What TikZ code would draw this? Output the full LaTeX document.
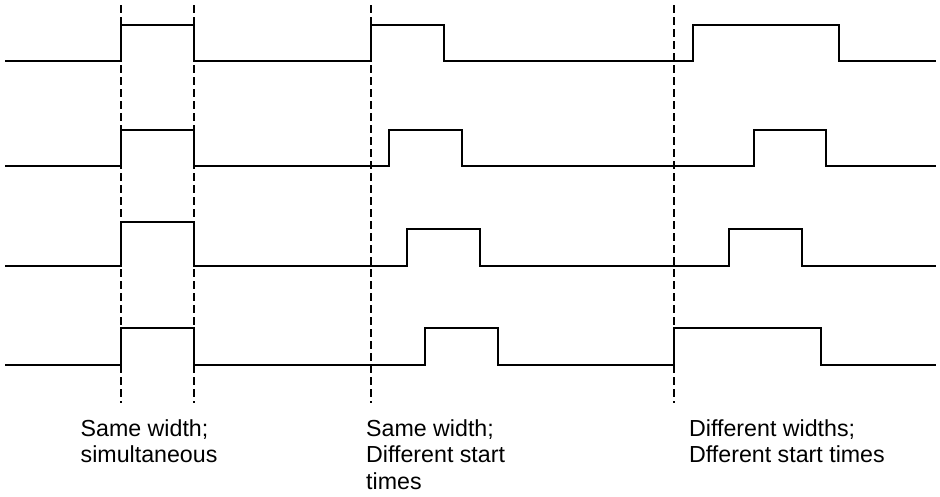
\documentclass[tikz,border=0pt]{standalone}
\usepackage{fontspec}
\setmainfont{Liberation Sans}
\begin{document}
\begin{tikzpicture}[x=1pt,y=-1pt,
  wave/.style={line width=1.7pt, line join=miter},
  guide/.style={line width=1.5pt, dash pattern=on 8pt off 4pt},
  caption/.style={anchor=base west, align=left, inner sep=0pt,
    font=\fontsize{23.2}{26.7}\selectfont}]
\useasboundingbox (0,0) rectangle (940,496);
% waveforms
\draw[wave] (5,61) -- (121,61) -- (121,25) -- (194,25) -- (194,61) -- (371,61) -- (371,25) -- (444,25) -- (444,61) -- (693,61) -- (693,25) -- (839,25) -- (839,61) -- (936,61);
\draw[wave] (5,166) -- (121,166) -- (121,130) -- (194,130) -- (194,166) -- (389,166) -- (389,130) -- (462,130) -- (462,166) -- (754,166) -- (754,130) -- (826,130) -- (826,166) -- (936,166);
\draw[wave] (5,266) -- (121,266) -- (121,222) -- (194,222) -- (194,266) -- (407,266) -- (407,229) -- (480,229) -- (480,266) -- (729,266) -- (729,229) -- (802,229) -- (802,266) -- (936,266);
\draw[wave] (5,365) -- (121,365) -- (121,328) -- (194,328) -- (194,365) -- (425,365) -- (425,328) -- (498,328) -- (498,365) -- (674,365) -- (674,328) -- (821,328) -- (821,365) -- (936,365);
% dashed guides
\coordinate (g1t) at (121,5);  \coordinate (g1b) at (121,403);
\coordinate (g2t) at (194,5);  \coordinate (g2b) at (194,403);
\coordinate (g3t) at (371,5);  \coordinate (g3b) at (371,403);
\coordinate (g4t) at (674,5);  \coordinate (g4b) at (674,403);
\draw[guide] (g1t) -- (g1b);
\draw[guide] (g2t) -- (g2b);
\draw[guide] (g3t) -- (g3b);
\draw[guide] (g4t) -- (g4b);
% captions (base anchor = baseline of last line)
\node[caption] (c1) at (80.5,462.7) {Same width;\\simultaneous};
\node[caption] (c2) at (366,489.4) {Same width;\\Different start\\times};
\node[caption] (c3) at (689,462.7) {Different widths;\\Dfferent start times};
\end{tikzpicture}
\end{document}
